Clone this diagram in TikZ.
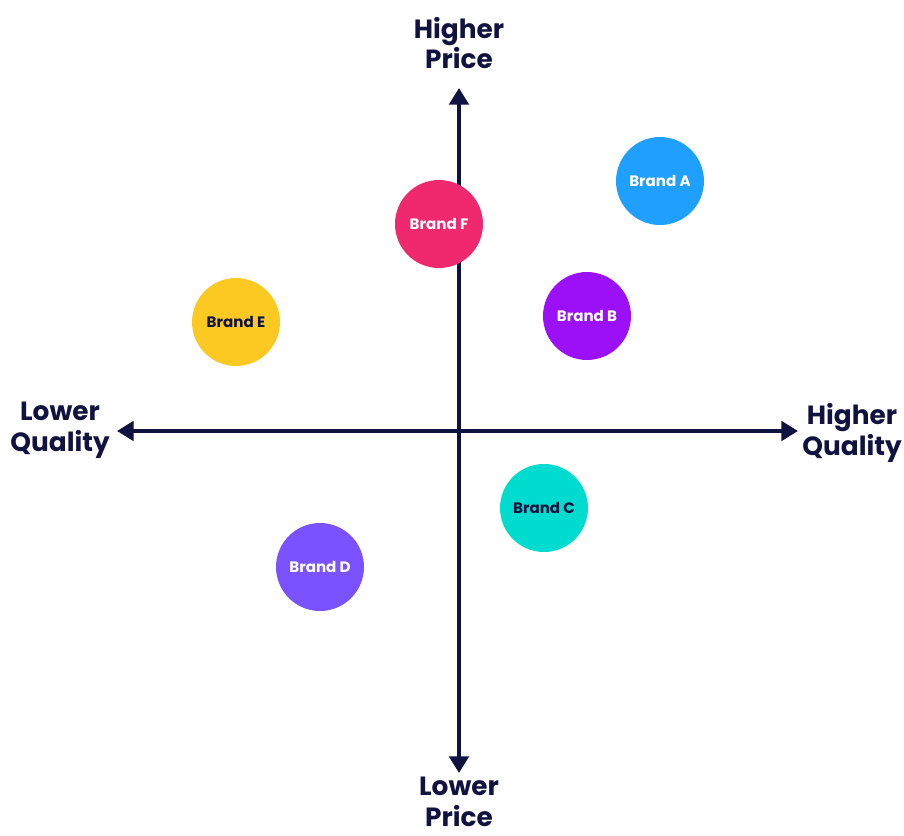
\documentclass[tikz,border=0pt]{standalone}
\usepackage{fontspec}
\setmainfont{Poppins}
\usetikzlibrary{arrows.meta}

\definecolor{navy}{HTML}{10123F}
\definecolor{brandA}{HTML}{1FA0FF}
\definecolor{brandB}{HTML}{9B10F7}
\definecolor{brandC}{HTML}{00DBCF}
\definecolor{brandD}{HTML}{7A52FF}
\definecolor{brandE}{HTML}{FCC922}
\definecolor{brandF}{HTML}{F0286E}

\begin{document}
\begin{tikzpicture}[x=0.02cm,y=-0.02cm,
    axis/.style={navy,line width=2.6pt,{Triangle[length=9.5pt,width=11pt]}-{Triangle[length=9.5pt,width=11pt]}},
    axislabel/.style={align=center,text=navy,font=\fontsize{15}{17.4}\selectfont\bfseries},
    brand/.style={circle,minimum size=1.76cm,inner sep=0pt,font=\fontsize{8.6}{10}\selectfont\bfseries}]
    \useasboundingbox (0,0) rectangle (904,836);
    % axis ends
    \coordinate (top) at (459,88);
    \coordinate (bottom) at (459,773);
    \coordinate (left) at (117,431);
    \coordinate (right) at (798,431);
    \draw[axis] (bottom) -- (top);
    \draw[axis] (left) -- (right);
    \node[axislabel] (hiprice) at (459,43) {Higher\\Price};
    \node[axislabel] (loprice) at (459,802) {Lower\\Price};
    \node[axislabel] (loqual) at (60,430) {Lower\\Quality};
    \node[axislabel] (hiqual) at (852,433) {Higher\\Quality};
    % brands
    \node[brand,fill=brandA,text=white] (a) at (660,181) {Brand A};
    \node[brand,fill=brandF,text=white] (f) at (439,224) {Brand F};
    \node[brand,fill=brandB,text=white] (b) at (587,316) {Brand B};
    \node[brand,fill=brandE,text=navy] (e) at (236,322) {Brand E};
    \node[brand,fill=brandC,text=navy] (c) at (544,508) {Brand C};
    \node[brand,fill=brandD,text=white] (d) at (320,567) {Brand D};
\end{tikzpicture}
\end{document}
